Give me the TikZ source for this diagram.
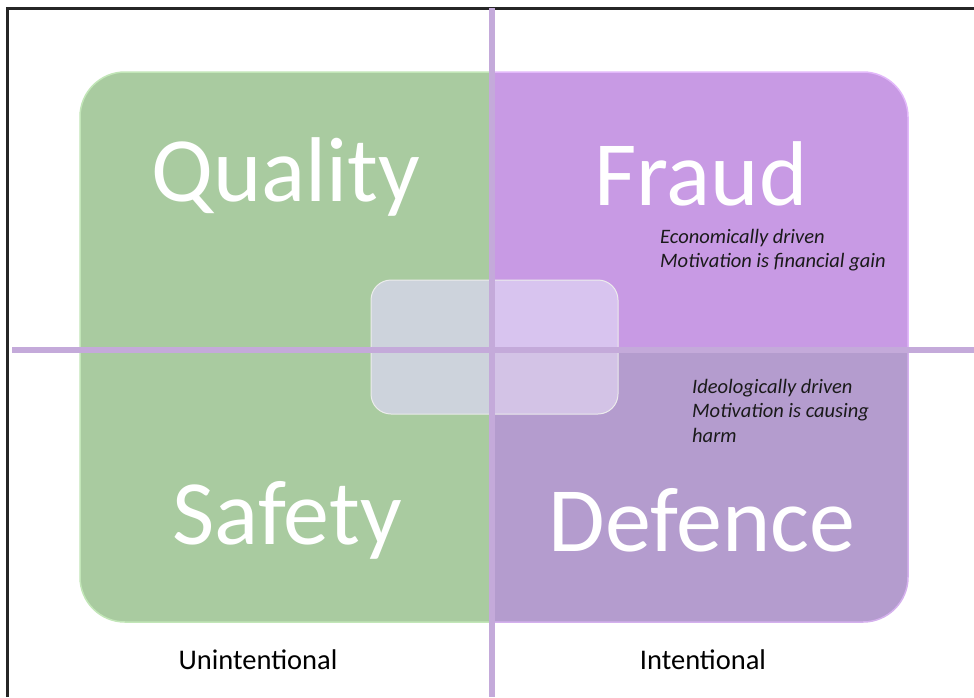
\documentclass[tikz,border=0pt]{standalone}
\usepackage{fontspec}
\setmainfont{Carlito}
\definecolor{qgreen}{HTML}{A9CBA0}
\definecolor{qgreenedge}{HTML}{C2E6B8}
\definecolor{fpurple}{HTML}{C89AE4}
\definecolor{fedge}{HTML}{E2B8FA}
\definecolor{dpurple}{HTML}{B49CCE}
\definecolor{axis}{HTML}{C4AADA}
\definecolor{ovgreen}{HTML}{CDD3DC}
\definecolor{ovpurple}{HTML}{D8C4EF}
\definecolor{ovdpurple}{HTML}{D3C3E6}
\definecolor{txtdark}{HTML}{1A1A1A}
\tikzset{
  big/.style={text=white, font=\fontsize{92}{92}\selectfont, inner sep=0pt},
  note/.style={text=txtdark, font=\fontsize{20.5}{24.5}\selectfont\itshape, align=left, anchor=north west, inner sep=0pt},
  axlabel/.style={text=black, font=\fontsize{28.5}{30}\selectfont, inner sep=0pt},
  axisline/.style={draw=axis, line width=6pt},
}
\begin{document}
\begin{tikzpicture}[x=1pt,y=-1pt]
\useasboundingbox (0,0) rectangle (974,697);
\fill[white] (0,0) rectangle (974,697);
% frame
\draw[line width=3pt, black!85] (7,697) -- (7,8) -- (974,8);
% quadrants
\begin{scope}
  \clip[rounded corners=45pt] (80,72) rectangle (908,622);
  \fill[qgreen] (80,72) rectangle (493,622);
  \fill[fpurple] (493,72) rectangle (908,350);
  \fill[dpurple] (493,350) rectangle (908,622);
\end{scope}
\draw[qgreenedge, line width=1.5pt, rounded corners=45pt] (493,622) -- (80,622) -- (80,72) -- (493,72);
\draw[fedge, line width=1.5pt, rounded corners=45pt] (493,72) -- (908,72) -- (908,350);
\draw[fedge!70!dpurple, line width=1.5pt, rounded corners=45pt] (908,350) -- (908,622) -- (493,622);
% centre overlay
\begin{scope}
  \clip[rounded corners=20pt] (371,280) rectangle (618,414);
  \fill[ovgreen] (371,280) rectangle (493,414);
  \fill[ovpurple] (493,280) rectangle (618,350);
  \fill[ovdpurple] (493,350) rectangle (618,414);
\end{scope}
\draw[white!85!gray, line width=1pt, rounded corners=20pt] (371,280) rectangle (618,414);
% axes
\coordinate (vtop) at (492,8);
\coordinate (vbot) at (492,697);
\coordinate (hl) at (12,350);
\coordinate (hr) at (974,350);
\draw[axisline] (hl) -- (hr);
\draw[axisline] (vtop) -- (vbot);
% big labels
\node[big] (quality) at (286,177) {Quality};
\node[big] (fraud) at (701,174) {Fraud};
\node[big] (safety) at (287,520) {Safety};
\node[big] (defence) at (702,520) {Defence};
% notes
\node[note] (econ) at (660,229) {Economically driven\\Motivation is financial gain};
\node[note] (ideo) at (692,379) {Ideologically driven\\Motivation is causing\\harm};
% axis labels
\node[axlabel] (unint) at (258,660) {Unintentional};
\node[axlabel] (intent) at (703,660) {Intentional};
\end{tikzpicture}
\end{document}
